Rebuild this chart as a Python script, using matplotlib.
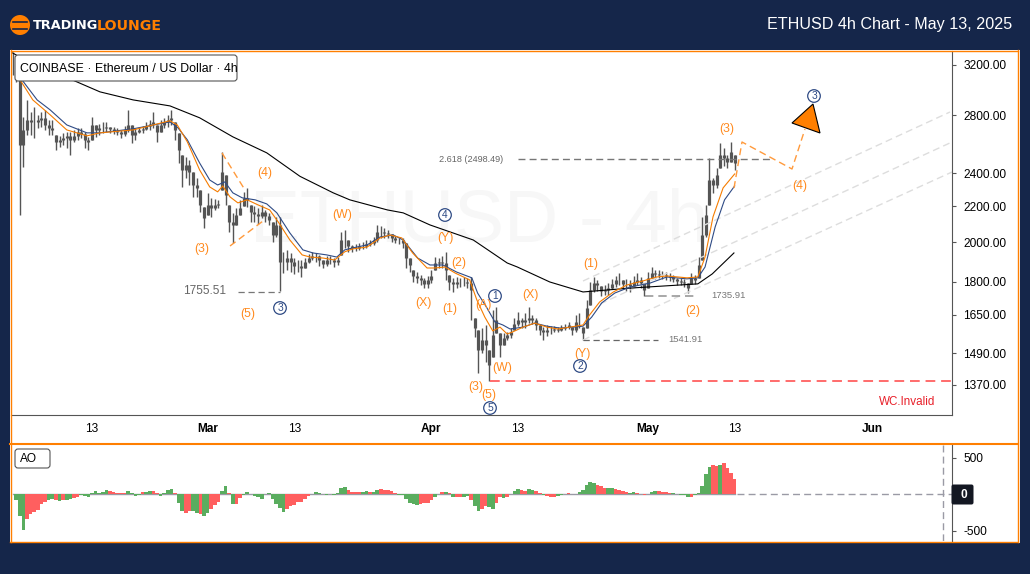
import numpy as np
import matplotlib
matplotlib.use('Agg')
import matplotlib.pyplot as plt
from matplotlib.patches import Rectangle, Polygon, FancyBboxPatch, Circle
from matplotlib.lines import Line2D
from matplotlib.transforms import Affine2D

plt.rcParams['font.family'] = ['Liberation Sans', 'DejaVu Sans']

# x axis is days since 2 Feb 2025, candles are 12h apart
tick_days = [11, 27, 39, 58, 70, 88, 100, 119]
tick_labels = ['13', 'Mar', '13', 'Apr', '13', 'May', '13', 'Jun']
price_ticks = [3200, 2800, 2400, 2200, 2000, 1800, 1650, 1490, 1370]

highs = [3312, 3243, 3092, 2789, 2917, 2826, 2864, 2804, 2826, 2841,
         2767, 2767, 2659, 2652, 2673, 2680, 2680, 2694, 2709, 2709,
         2680, 2645, 2789, 2730, 2737, 2752, 2752, 2716, 2716, 2709,
         2694, 2723, 2841, 2730, 2709, 2716, 2723, 2752, 2767, 2826,
         2730, 2767, 2782, 2804, 2841, 2752, 2673, 2521, 2508, 2488,
         2410, 2372, 2298, 2196, 2280, 2250, 2244, 2238, 2541, 2391,
         2208, 2162, 2190, 2238, 2286, 2310, 2208, 2202, 2190, 2208,
         2179, 2162, 2110, 2139, 2139, 1950, 1960, 1944, 1918, 1908,
         1908, 1918, 1939, 1950, 1944, 1934, 1908, 1929, 1929, 1918,
         1923, 2055, 2066, 2012, 1986, 1991, 1996, 2001, 2012, 2012,
         2028, 2094, 2088, 2077, 2066, 2044, 2033, 2023, 2023, 1996,
         1918, 1858, 1848, 1834, 1820, 1829, 1858, 1923, 1918, 1929,
         1950, 1834, 1820, 1824, 1820, 1824, 1820, 1824, 1636, 1585,
         1593, 1606, 1503, 1671, 1685, 1572, 1572, 1576, 1593, 1636,
         1662, 1636, 1658, 1685, 1649, 1636, 1610, 1597, 1606, 1601,
         1601, 1597, 1606, 1610, 1619, 1597, 1649, 1658, 1597, 1716,
         1800, 1824, 1810, 1781, 1786, 1795, 1815, 1829, 1843, 1810,
         1815, 1810, 1829, 1843, 1824, 1795, 1848, 1873, 1858, 1858,
         1853, 1848, 1843, 1834, 1820, 1820, 1815, 1795, 1843, 1834,
         1923, 2139, 2208, 2501, 2372, 2436, 2603, 2569, 2521, 2610,
         2521]
lows = [3116, 3060, 2150, 2442, 2659, 2659, 2638, 2709, 2716, 2694,
        2659, 2659, 2555, 2576, 2589, 2569, 2521, 2610, 2624, 2638,
        2569, 2555, 2624, 2645, 2659, 2673, 2680, 2673, 2666, 2659,
        2638, 2652, 2680, 2603, 2624, 2673, 2673, 2694, 2694, 2709,
        2610, 2680, 2709, 2716, 2730, 2624, 2468, 2316, 2372, 2328,
        2256, 2256, 2168, 2077, 2150, 2139, 2179, 2190, 2298, 2208,
        2055, 1996, 2094, 2150, 2202, 2196, 2110, 2110, 2099, 2133,
        2110, 2094, 2001, 2028, 1755.51, 1843, 1858, 1848, 1838, 1848,
        1824, 1868, 1893, 1908, 1898, 1878, 1868, 1878, 1888, 1873,
        1883, 1934, 1970, 1950, 1950, 1955, 1960, 1965, 1970, 1981,
        1986, 2001, 2023, 2023, 2023, 2001, 1996, 1991, 1970, 1868,
        1848, 1800, 1795, 1786, 1771, 1771, 1795, 1858, 1868, 1868,
        1810, 1762, 1753, 1771, 1776, 1781, 1771, 1627, 1556, 1414,
        1491, 1456, 1384, 1475, 1572, 1475, 1523, 1543, 1551, 1585,
        1601, 1593, 1593, 1614, 1610, 1585, 1564, 1543, 1560, 1568,
        1576, 1576, 1580, 1585, 1589, 1564, 1576, 1593, 1541.91, 1593,
        1694, 1753, 1757, 1734, 1739, 1739, 1767, 1776, 1786, 1767,
        1757, 1753, 1781, 1786, 1771, 1735.91, 1771, 1820, 1815, 1820,
        1815, 1810, 1805, 1800, 1786, 1786, 1776, 1748, 1791, 1791,
        1820, 1908, 2028, 2208, 2280, 2310, 2436, 2449, 2436, 2475,
        2423]
closes = [3158, 3092, 2589, 2694, 2767, 2752, 2752, 2767, 2782, 2730,
          2709, 2694, 2610, 2624, 2638, 2652, 2624, 2652, 2680, 2666,
          2624, 2610, 2730, 2694, 2709, 2709, 2716, 2702, 2687, 2680,
          2666, 2694, 2730, 2659, 2680, 2694, 2702, 2723, 2737, 2752,
          2680, 2730, 2752, 2767, 2782, 2694, 2555, 2423, 2455, 2410,
          2328, 2310, 2208, 2133, 2208, 2190, 2208, 2214, 2410, 2268,
          2110, 2094, 2150, 2190, 2250, 2238, 2168, 2156, 2145, 2168,
          2145, 2122, 2039, 2094, 1898, 1898, 1918, 1898, 1878, 1878,
          1868, 1898, 1918, 1929, 1929, 1908, 1888, 1908, 1908, 1898,
          1908, 2012, 2012, 1981, 1970, 1970, 1981, 1981, 1991, 1996,
          2012, 2055, 2055, 2050, 2044, 2023, 2012, 2012, 1996, 1918,
          1883, 1829, 1820, 1810, 1791, 1810, 1829, 1893, 1898, 1893,
          1858, 1800, 1791, 1800, 1800, 1800, 1795, 1762, 1593, 1503,
          1543, 1523, 1444, 1564, 1627, 1523, 1551, 1564, 1576, 1610,
          1627, 1619, 1627, 1636, 1627, 1606, 1585, 1576, 1585, 1585,
          1589, 1585, 1593, 1597, 1606, 1585, 1619, 1619, 1572, 1680,
          1762, 1795, 1786, 1757, 1762, 1771, 1791, 1810, 1810, 1791,
          1791, 1781, 1800, 1810, 1795, 1762, 1820, 1843, 1838, 1834,
          1834, 1829, 1824, 1815, 1805, 1800, 1795, 1771, 1820, 1810,
          1883, 2039, 2150, 2359, 2328, 2391, 2521, 2501, 2475, 2541,
          2468]

ma_fast_days = [1.0, 1.3, 2.8, 5.2, 7.5, 10.3, 12.1, 16.7, 21.8, 22.8, 24.2, 25.9, 27.3, 28.4, 29.1,
                30.1, 31.2, 32.5, 34, 35.6, 36.8, 38.4, 40.1, 41.2, 43, 44.6, 46, 47.1, 49.1, 50.9,
                52.3, 53.9, 55.4, 57.4, 58.5, 59.9, 61.3, 63.3, 64.3, 65.4, 66.5, 67.5, 68.5, 69.2,
                70.7, 72.3, 74, 75.5, 77.2, 79, 79.9, 81.3, 83.2, 85.1, 87.3, 89.2, 90.6, 93.4, 94.9,
                95.9, 97, 98.4, 100]
ma_fast = [3076, 3052, 2917, 2804, 2694, 2652, 2673, 2694, 2760, 2730, 2610, 2423, 2316, 2286, 2322,
           2256, 2220, 2238, 2208, 2179, 2110, 2012, 1934, 1923, 1918, 1908, 1950, 1965, 1975, 2023,
           2039, 2023, 1944, 1868, 1868, 1873, 1843, 1810, 1716, 1640, 1581, 1597, 1568, 1576,
           1597, 1614, 1597, 1589, 1597, 1606, 1649, 1707, 1753, 1786, 1805, 1824, 1829, 1820, 1824,
           1923, 2139, 2310, 2397]
ma_slow_days = [1.3, 3.4, 5.2, 7.5, 10.3, 12.1, 16.7, 21.8, 22.9, 24.2, 25.9, 27.3, 28.4, 29.4, 30.5,
                31.8, 33.6, 35.2, 36.6, 38.4, 40.2, 41.6, 43.5, 44.9, 46, 47.1, 49.1, 50.9, 52.7, 54.1,
                56.1, 57.8, 59.6, 61.5, 63.6, 64.4, 65.7, 66.8, 67.9, 68.9, 70.7, 72.3, 74, 75.8, 77.6,
                79, 80.2, 81.6, 83.4, 85.5, 88.3, 90.6, 93.4, 94.9, 95.9, 97.3, 98.6, 100]
ma_slow = [3076, 2917, 2841, 2730, 2673, 2673, 2702, 2752, 2709, 2624, 2468, 2359, 2328, 2347, 2280,
           2250, 2238, 2214, 2162, 2050, 1960, 1944, 1934, 1923, 1960, 1970, 1986, 2028, 2039, 2012,
           1918, 1883, 1883, 1848, 1820, 1748, 1680, 1619, 1606, 1589, 1597, 1614, 1601, 1593, 1597,
           1601, 1640, 1703, 1748, 1776, 1795, 1824, 1815, 1820, 1873, 2083, 2238, 2322]
ma_long_days = [0, 1, 6.6, 8.9, 12.1, 16.7, 21.8, 25.9, 30.5, 35.2, 39.8, 44.4, 46.7, 51.9, 54.1,
                57.8, 63.8, 68.5, 69.9, 74.4, 79, 85.5, 94.9, 96.9, 99.9]
ma_long = [3304, 3268, 3116, 3060, 2980, 2917, 2871, 2782, 2645, 2535, 2382, 2280, 2238, 2179, 2162,
           2094, 2012, 1893, 1873, 1800, 1753, 1771, 1791, 1839, 1944]

ao_values = [0, -82, -301, -493, -343, -274, -247, -219, -137, -110,
             -82, -68, -82, -96, -82, -82, -68, -55, -41, -14,
             -27, -41, 14, 41, 14, 27, 55, 41, 27, 14,
             14, 14, 41, 14, -27, -14, 27, 27, 41, 41,
             14, -27, 14, 55, 68, 14, -123, -233, -260, -233,
             -233, -260, -274, -301, -260, -205, -151, -110, 41, 110,
             14, -137, -137, -55, -14, 27, 0, -27, -41, -68,
             0, 14, -68, -137, -192, -247, -205, -164, -151, -110,
             -110, -68, -27, 0, 27, 14, 0, -14, 0, -14,
             14, 82, 96, 55, 27, 27, 27, 27, 41, 27,
             27, 55, 68, 55, 55, 41, 14, -14, -14, -68,
             -123, -137, -151, -137, -123, -123, -82, -41, 0, 27,
             27, 14, -41, -41, -41, -41, -27, -82, -164, -233,
             -205, -164, -178, -205, -123, -41, -55, -41, 0, 41,
             68, 55, 41, 68, 55, 41, 14, -14, -27, -41,
             -41, -27, -14, 0, 14, 0, 0, 27, 55, 123,
             164, 151, 123, 110, 82, 82, 82, 68, 55, 41,
             27, 14, 27, 14, 0, -14, 0, 27, 41, 41,
             27, 27, 14, 14, 0, -14, -14, -41, -41, -14,
             14, 110, 274, 370, 397, 384, 397, 425, 356, 288,
             205]
ao_dirs = ('ggggrrrrrr' 'ggrgrggrrg' 'gggggggrrr' 'rrggggrggr' 'rggggrggrr'
           'ggrggrrrgg' 'rgrrggrggg' 'rgggggrrrr' 'rrrrggrggg' 'gggrrrrggr'
           'ggrrrrrggg' 'gggrrrrggr' 'grgrrggrgg' 'rrggrrgrgg' 'grrggrrgrr'
           'rggrrgrggg' 'ggrrrggrrr' 'rggrrrrggr' 'rrrgggggrg' 'ggggrrgrrrr')

orange_labels = [('(4)', 265, 173), ('(3)', 202, 249), ('(5)', 248, 314), ('(W)', 342, 215),
                 ('(Y)', 445, 238), ('(2)', 459, 263), ('(X)', 423, 303), ('(1)', 450, 309),
                 ('(A)', 483, 305), ('(X)', 530, 295), ('(W)', 502, 368), ('(3)', 476, 387),
                 ('(5)', 489, 395), ('(Y)', 582, 354), ('(1)', 591, 264), ('(2)', 693, 311),
                 ('(3)', 727, 129), ('(4)', 800, 186)]
circle_labels = [('3', 280, 308), ('4', 445, 215), ('1', 495, 296), ('2', 580, 366),
                 ('5', 490, 408), ('3', 814, 96)]

NAVY = '#15264a'
ORANGE = '#ff7f00'
DASH_ORANGE = '#ff9a3c'
GREY = '#555555'
CHANNEL = '#dddddd'

W, H = 1030, 574
pix = Affine2D().scale(1, -1).translate(0, H)  # image pixels, y down


def ax_rect(x0, y0, x1, y1):
    return [x0 / W, 1 - y1 / H, (x1 - x0) / W, (y1 - y0) / H]


fig = plt.figure(figsize=(W / 100, H / 100), dpi=100, facecolor=NAVY)
fig.add_artist(Rectangle((10, 543), 1010, -493, transform=pix, fc='white', ec='none', zorder=-5))

ax = fig.add_axes(ax_rect(11, 51, 952, 415))
ax2 = fig.add_axes(ax_rect(11, 445, 952, 541))
for a in (ax, ax2):
    a.patch.set_visible(False)
    a.spines['top'].set_visible(False)
    a.spines['left'].set_visible(False)
    a.spines['right'].set_color(GREY)
    a.spines['bottom'].set_color(GREY)
    a.set_xlim(-0.22, 130.1)

# price pane
days = np.arange(len(closes)) * 0.5
highs = np.array(highs, dtype=float)
lows = np.array(lows, dtype=float)
closes = np.array(closes, dtype=float)
opens = np.r_[closes[0], closes[:-1]]
body_top = np.clip(np.maximum(opens, closes), lows, highs)
body_bot = np.clip(np.minimum(opens, closes), lows, highs)

ax.set_yscale('log')
ax.set_ylim(1265, 3321)
ax.vlines(days, lows, highs, color=GREY, lw=1.0, zorder=2)
ax.vlines(days, body_bot, body_top, color=GREY, lw=2.3, zorder=2)
ax.plot(ma_long_days, ma_long, color='black', lw=0.8, zorder=3)
ax.plot(ma_slow_days, ma_slow, color='#2f4b85', lw=0.8, zorder=3)
ax.plot(ma_fast_days, ma_fast, color='#f57c00', lw=0.8, zorder=3)

ax.yaxis.tick_right()
ax.set_yticks(price_ticks)
ax.set_yticklabels(['%.2f' % p for p in price_ticks])
ax.minorticks_off()
ax.tick_params(axis='y', length=3, width=0.8, color=GREY, pad=5, labelsize=8.6)
ax.set_xticks(tick_days)
ax.set_xticklabels(tick_labels)
ax.tick_params(axis='x', length=0, pad=6, labelsize=8.6)
for lab in ax.get_xticklabels():
    if lab.get_text() != '13':
        lab.set_fontweight('bold')

ax.text(479, 222, 'ETHUSD - 4h', transform=pix, fontsize=54, color='#f7f7f7',
        ha='center', va='center', zorder=0.5)


def seg(xs, ys, color, lw=1.0, ls=(0, (5, 3)), z=2.5):
    ax.plot(xs, ys, transform=pix, color=color, lw=lw, ls=ls, zorder=z, clip_on=False)


# channel lines
seg([583, 950], [281, 112], CHANNEL)
seg([600, 952], [304, 142], CHANNEL)
seg([583, 952], [340, 172], CHANNEL)

# levels
seg([238, 280], [291.5, 291.5], '#777777', lw=0.9)
seg([518, 770], [159, 159], '#777777', lw=1.0)
seg([645, 697], [296, 296], '#999999', lw=1.2)
seg([583, 658], [340, 340], '#666666', lw=0.9)
seg([490, 952], [381, 381], '#ff6b6b', lw=1.4)
ax.text(205, 291, '1755.51', transform=pix, fontsize=8.6, color='#666666', ha='center', va='center')
ax.text(471, 159, '2.618 (2498.49)', transform=pix, fontsize=6.6, color='#666666', ha='center', va='center')
ax.text(728, 296, '1735.91', transform=pix, fontsize=6.8, color='#777777', ha='center', va='center')
ax.text(685, 340, '1541.91', transform=pix, fontsize=6.8, color='#777777', ha='center', va='center')
ax.text(907, 402, 'WC.Invalid', transform=pix, fontsize=8.4, color='#e8202a', ha='center', va='center')

# wave projections
seg([222, 245], [153, 190], DASH_ORANGE, lw=1.0, z=4)
seg([230, 263], [246, 221], DASH_ORANGE, lw=1.0, z=4)
seg([734, 742, 792, 805], [188, 142, 169, 129], DASH_ORANGE, lw=1.0, z=4)
ax.add_patch(Polygon([(792, 123), (813, 104), (820, 133)], closed=True, transform=pix,
                     fc=ORANGE, ec='black', lw=0.8, zorder=5, clip_on=False))

for s, x, y in orange_labels:
    ax.text(x, y, s, transform=pix, fontsize=8.8, color='#ff8a1e', ha='center', va='center', zorder=6)
for s, x, y in circle_labels:
    ax.add_patch(Circle((x, y), 6.3, transform=pix, fc='white', ec='#2f4b85', lw=0.9, zorder=6, clip_on=False))
    ax.text(x, y, s, transform=pix, fontsize=7.4, color='#2f4b85', ha='center', va='center', zorder=7)

# AO pane
ao_colors = ['#5aad5f' if d == 'g' else '#ff5f5f' for d in ao_dirs]
ax2.bar(days[:len(ao_values)], ao_values, width=0.5, color=ao_colors, lw=0, zorder=2)
ax2.set_ylim(-640, 675)
ax2.plot([0, 100], [0, 0], color='#9a9aa5', lw=1.0, zorder=1)
ax2.plot([100.3, 130.1], [0, 0], color='#9a9aa5', lw=1.0, ls=(0, (5, 3)), zorder=1)
ax2.plot([943, 943], [445, 541], transform=pix, color='#9a9aa5', lw=1.0, ls=(0, (5, 3)))
ax2.yaxis.tick_right()
ax2.set_yticks([-500, 0, 500])
ax2.set_yticklabels(['-500', '', '500'])
ax2.tick_params(axis='y', length=3, width=0.8, color=GREY, pad=5, labelsize=8.6)
ax2.set_xticks([])
ax2.spines['bottom'].set_visible(False)

# boxes on top of the panes
fig.add_artist(FancyBboxPatch((18, 58), 216, 20, boxstyle='round,pad=3,rounding_size=3', transform=pix,
                              fc='white', ec=GREY, lw=0.8, zorder=8))
fig.text(20, 68.5, 'COINBASE · Ethereum / US Dollar · 4h', transform=pix, fontsize=8.9,
         color='black', va='center', zorder=9)
fig.add_artist(FancyBboxPatch((18, 452), 29, 13, boxstyle='round,pad=3,rounding_size=3', transform=pix,
                              fc='white', ec=GREY, lw=0.8, zorder=8))
fig.text(20, 458.5, 'AO', transform=pix, fontsize=8.6, color='black', va='center', zorder=9)
fig.add_artist(FancyBboxPatch((953, 486), 19, 17, boxstyle='round,pad=1.5,rounding_size=2', transform=pix,
                              fc='#131722', ec='none', zorder=8))
fig.text(964, 494.5, '0', transform=pix, fontsize=8.6, color='white', fontweight='bold',
         ha='center', va='center', zorder=9)

# orange frame
for xs, ys, lw in [([10.5, 1017.5], [50.5, 50.5], 1.0), ([10.5, 10.5], [50, 542], 1.0),
                   ([1017.5, 1017.5], [50, 542], 1.0), ([10, 1018], [444, 444], 1.5),
                   ([10, 1018], [541.7, 541.7], 1.0)]:
    fig.add_artist(Line2D(xs, ys, transform=pix, color=ORANGE, lw=lw, zorder=7))

# header
fig.add_artist(Circle((20, 25), 10, transform=pix, fc=ORANGE, ec='none'))
for y in (21.5, 28.5):
    fig.add_artist(Line2D([13, 27], [y, y], transform=pix, color=NAVY, lw=1.2))
fig.text(33, 25.5, 'TRADING', transform=pix, fontsize=9.3, fontweight='bold', family='DejaVu Sans',
         color='white', va='center')
fig.text(97, 25.5, 'LOUNGE', transform=pix, fontsize=10.2, fontweight='bold', family='DejaVu Sans',
         color=ORANGE, va='center')
fig.text(1012, 24, 'ETHUSD 4h Chart - May 13, 2025', transform=pix, fontsize=11.6, color='white',
         ha='right', va='center', fontweight='medium')

fig.savefig('out.png', dpi=100, facecolor=NAVY)
